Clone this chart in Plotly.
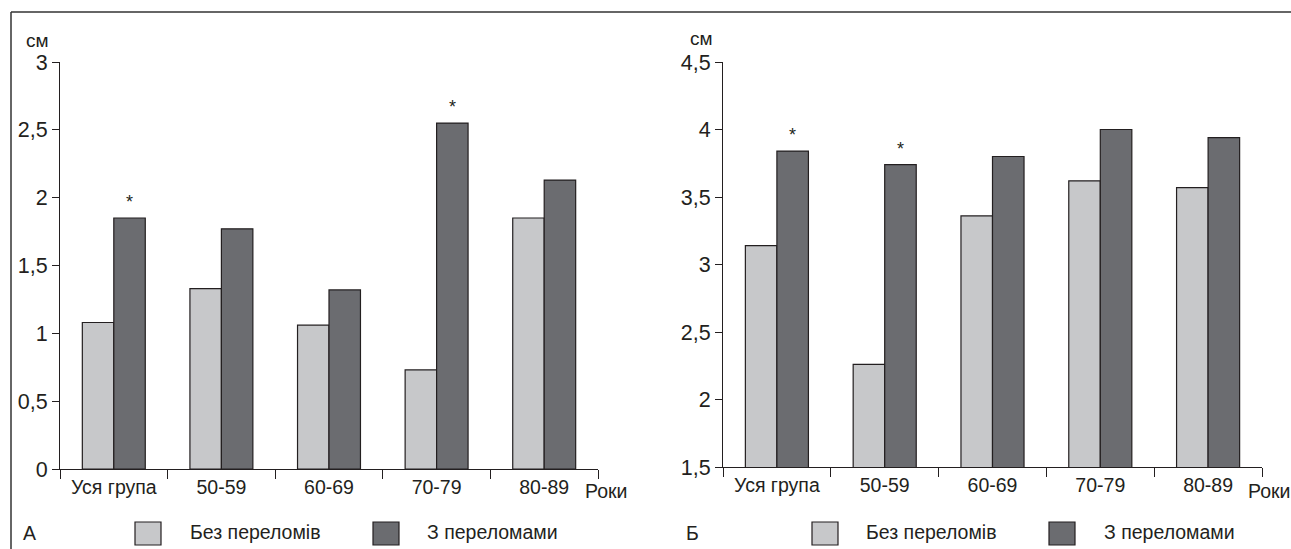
import plotly.graph_objects as go

W, H = 1291, 549

categories = ["Уся група", "50-59", "60-69", "70-79", "80-89"]
series_names = ["Без переломів", "З переломами"]

# Panel A (cm)
a_no_fract = [1.08, 1.33, 1.06, 0.73, 1.85]
a_fract = [1.85, 1.77, 1.32, 2.55, 2.13]
a_star = ["Уся група", "70-79"]
a_tickvals = [0, 0.5, 1, 1.5, 2, 2.5, 3]
a_ticktext = ["0", "0,5", "1", "1,5", "2", "2,5", "3"]

# Panel B (cm)
b_no_fract = [3.14, 2.26, 3.36, 3.62, 3.57]
b_fract = [3.84, 3.74, 3.80, 4.00, 3.94]
b_star = ["Уся група", "50-59"]
b_tickvals = [1.5, 2, 2.5, 3, 3.5, 4, 4.5]
b_ticktext = ["1,5", "2", "2,5", "3", "3,5", "4", "4,5"]

FONT = "Liberation Sans, Arial, Helvetica, sans-serif"
LIGHT = "#c7c8ca"
DARK = "#6b6c70"
EDGE = "#231f20"
TXT = "#231f20"
FS = 19.5
FSY = 21.5

def px(x):
    return x / W

def py(y):
    return 1 - y / H

fig = go.Figure()

for vals, name, col, xa, ya in [
    (a_no_fract, series_names[0], LIGHT, "x", "y"),
    (a_fract, series_names[1], DARK, "x", "y"),
    (b_no_fract, series_names[0], LIGHT, "x2", "y2"),
    (b_fract, series_names[1], DARK, "x2", "y2"),
]:
    fig.add_trace(go.Bar(
        x=categories, y=vals, name=name, xaxis=xa, yaxis=ya,
        marker=dict(color=col, line=dict(color=EDGE, width=1.2)),
        showlegend=False, hoverinfo="x+y+name",
    ))

ax_common = dict(
    showline=True, linecolor=EDGE, linewidth=1.2,
    ticks="outside", tickcolor=EDGE, tickwidth=1.2,
    showgrid=False, zeroline=False, automargin=False,
)
xfont = dict(family=FONT, size=FS, color=TXT)
yfont = dict(family=FONT, size=FSY, color=TXT)

fig.update_layout(
    template="none",
    width=W, height=H,
    margin=dict(l=0, r=0, t=0, b=0, pad=0, autoexpand=False),
    paper_bgcolor="white", plot_bgcolor="white",
    barmode="group", bargap=0.415, bargroupgap=0,
    font=dict(family=FONT, color=TXT),
    xaxis=dict(domain=[px(60), px(598)], anchor="y", type="category",
               tickson="boundaries", ticklen=9, range=[-0.5, 4.5],
               tickfont=xfont, **ax_common),
    yaxis=dict(domain=[py(469), py(62)], anchor="x", range=[0, 3],
               tickvals=a_tickvals, ticktext=a_ticktext, ticklen=7,
               tickfont=yfont, **ax_common),
    xaxis2=dict(domain=[px(723), px(1262)], anchor="y2", type="category",
                tickson="boundaries", ticklen=9, range=[-0.5, 4.5],
                tickfont=xfont, **ax_common),
    yaxis2=dict(domain=[py(467), py(62)], anchor="x2", range=[1.5, 4.5],
                tickvals=b_tickvals, ticktext=b_ticktext, ticklen=7,
                tickfont=yfont, **ax_common),
)

ann = []
# significance stars
for cats, vals, xr, yr in [(a_star, a_fract, "x", "y"), (b_star, b_fract, "x2", "y2")]:
    for c in cats:
        v = vals[categories.index(c)]
        ann.append(dict(x=c, y=v, xref=xr, yref=yr, text="*", showarrow=False,
                        xshift=16, yshift=16, yanchor="middle",
                        font=dict(family=FONT, size=18, color=TXT)))

# unit labels, axis names, panel letters
for x, y, t, anchor, size in [
    (37, 40, "см", "center", 19), (701, 38, "см", "center", 19),
    (583, 491, "Роки", "left", FS), (1246, 491, "Роки", "left", FS),
    (21, 533, "А", "left", FS), (684, 533, "Б", "left", FS),
]:
    ann.append(dict(x=px(x), y=py(y), xref="paper", yref="paper", text=t,
                    showarrow=False, xanchor=anchor, yanchor="middle",
                    font=dict(family=FONT, size=size, color=TXT)))

shapes = []
# legends (one per panel)
for bx, tx in [((135, 373), (188, 425)), ((812, 1049), (864, 1102))]:
    for i, col in enumerate([LIGHT, DARK]):
        shapes.append(dict(type="rect", xref="paper", yref="paper",
                           x0=px(bx[i]), x1=px(bx[i] + 26), y0=py(545), y1=py(522),
                           fillcolor=col, line=dict(color=EDGE, width=1.2)))
        ann.append(dict(x=px(tx[i]), y=py(532), xref="paper", yref="paper",
                        text=series_names[i], showarrow=False, xanchor="left",
                        yanchor="middle", font=dict(family=FONT, size=FS, color=TXT)))

# outer frame (top and left edges)
shapes.append(dict(type="line", xref="paper", yref="paper", x0=px(11), x1=1,
                   y0=py(12), y1=py(12), line=dict(color="#333333", width=1.5)))
shapes.append(dict(type="line", xref="paper", yref="paper", x0=px(11), x1=px(11),
                   y0=0, y1=py(12), line=dict(color="#333333", width=1.5)))

fig.update_layout(annotations=ann, shapes=shapes)

fig.write_html("out.html", config={"displayModeBar": False},
               post_script="document.body.style.margin='0';document.body.style.overflow='hidden';")
